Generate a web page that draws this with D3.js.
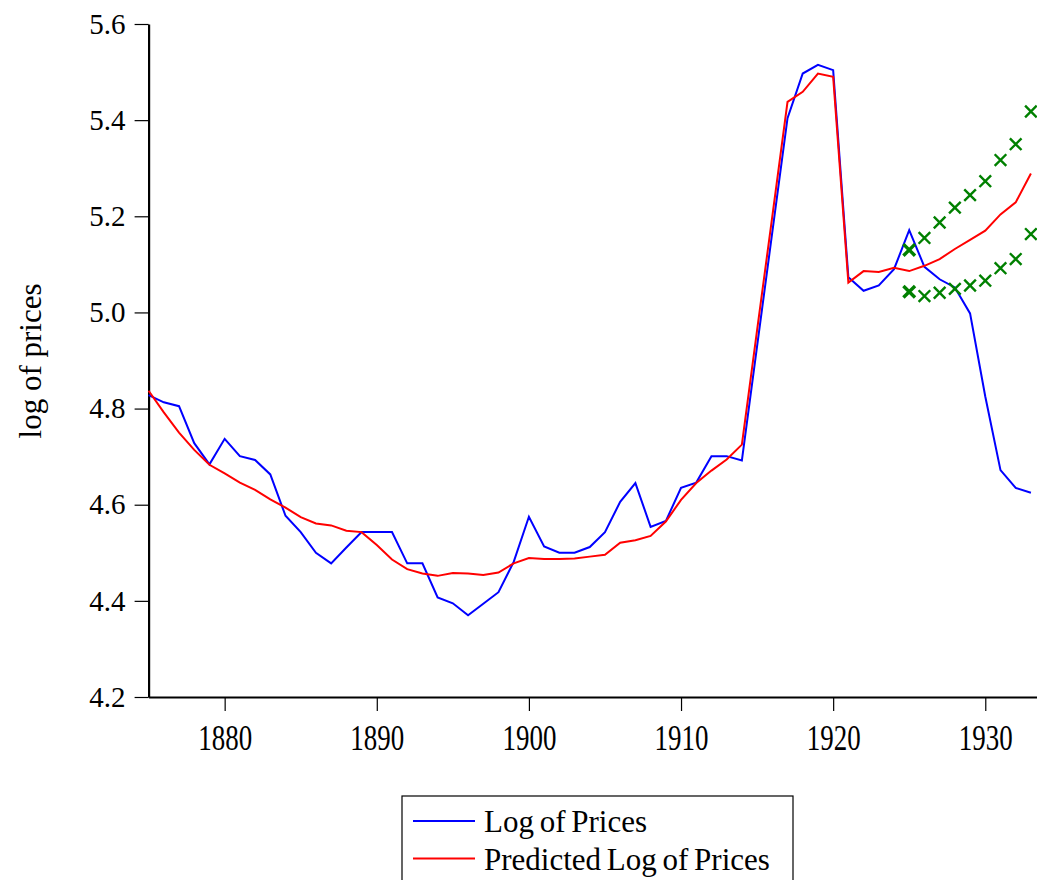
<!DOCTYPE html>
<html>
<head>
<meta charset="utf-8">
<script src="https://cdn.jsdelivr.net/npm/d3@7"></script>
<style>
  html, body { margin: 0; padding: 0; background: #fff; }
  svg { display: block; }
  text { font-family: "Liberation Serif", "Times New Roman", serif; fill: #000; }
</style>
</head>
<body>
<svg id="chart" width="1037" height="880"></svg>
<script>
const years = d3.range(1875, 1934);
const logPrices = [
  4.828, 4.813, 4.805, 4.728, 4.684, 4.737, 4.701, 4.693, 4.663, 4.577,
  4.543, 4.500, 4.478, 4.511, 4.543, 4.543, 4.543, 4.478, 4.478, 4.407,
  4.395, 4.370, 4.394, 4.418, 4.481, 4.575, 4.513, 4.500, 4.500, 4.512,
  4.543, 4.606, 4.645, 4.554, 4.566, 4.635, 4.646, 4.701, 4.701, 4.692,
  4.930, 5.167, 5.404, 5.497, 5.515, 5.504, 5.073, 5.045, 5.056, 5.090,
  5.171, 5.095, 5.069, 5.052, 4.998, 4.825, 4.672, 4.635, 4.625
];
const predicted = [
  4.837, 4.792, 4.750, 4.714, 4.683, 4.665, 4.646, 4.631, 4.611, 4.594,
  4.574, 4.561, 4.557, 4.546, 4.543, 4.516, 4.486, 4.466, 4.457, 4.452,
  4.458, 4.457, 4.454, 4.459, 4.478, 4.489, 4.487, 4.487, 4.488, 4.492,
  4.496, 4.521, 4.526, 4.535, 4.565, 4.610, 4.645, 4.671, 4.694, 4.725,
  4.963, 5.200, 5.438, 5.459, 5.497, 5.490, 5.062, 5.086, 5.084, 5.093,
  5.086, 5.097, 5.111, 5.132, 5.151, 5.170, 5.204, 5.229, 5.289
];
const bandYears = d3.range(1925, 1934);
const upperBand = [5.130, 5.155, 5.187, 5.218, 5.244, 5.273, 5.317, 5.350, 5.418];
const lowerBand = [5.043, 5.034, 5.041, 5.049, 5.056, 5.066, 5.092, 5.111, 5.163];
const xTicks = [1880, 1890, 1900, 1910, 1920, 1930];
const yTicks = [4.2, 4.4, 4.6, 4.8, 5.0, 5.2, 5.4, 5.6];
const seriesNames = ["Log of Prices", "Predicted Log of Prices"];
const seriesColors = ["#0000ff", "#ff0000"];

const svg = d3.select("#chart");
const x = d3.scaleLinear().domain([1875, 1933.4]).range([148.6, 1037]);
const y = d3.scaleLinear().domain([4.2, 5.6]).range([697, 24]);

// axes
const xAxis = svg.append("g").attr("transform", "translate(0,697)")
  .call(d3.axisBottom(x).tickValues(xTicks).tickFormat(d3.format("d")).tickSize(14).tickSizeOuter(0).tickPadding(14));
xAxis.select(".domain").attr("stroke", "#000").attr("stroke-width", 2.2);
xAxis.selectAll(".tick line").attr("stroke", "#000").attr("stroke-width", 1.2);
xAxis.selectAll(".tick text").attr("font-size", 29).attr("font-family", "Liberation Serif")
  .attr("fill", "#000")
  .attr("y", 0).attr("dy", "0.71em")
  .attr("transform", "translate(0,27) scale(0.93,1.25)");

const yAxis = svg.append("g").attr("transform", "translate(148.6,0)")
  .call(d3.axisLeft(y).tickValues(yTicks).tickFormat(d3.format(".1f")).tickSize(14).tickSizeOuter(0).tickPadding(9));
yAxis.select(".domain").attr("stroke", "#000").attr("stroke-width", 2.2);
yAxis.selectAll(".tick line").attr("stroke", "#000").attr("stroke-width", 1.2);
yAxis.selectAll(".tick text").attr("font-size", 29).attr("font-family", "Liberation Serif")
  .attr("fill", "#000");

// y label
svg.append("text")
  .attr("transform", "translate(41,361) rotate(-90)")
  .attr("text-anchor", "middle")
  .attr("font-size", 31)
  .text("log of prices");

// lines
const line = d3.line().x((d, i) => x(years[i])).y(d => y(d));
svg.append("path").datum(logPrices).attr("d", line)
  .attr("fill", "none").attr("stroke", seriesColors[0]).attr("stroke-width", 2).attr("stroke-linejoin", "miter");
svg.append("path").datum(predicted).attr("d", line)
  .attr("fill", "none").attr("stroke", seriesColors[1]).attr("stroke-width", 2).attr("stroke-linejoin", "miter");

// forecast band markers
const cross = d3.symbol().type(d3.symbolX).size(90);
[upperBand, lowerBand].forEach(band => {
  svg.append("g").selectAll("path").data(band).join("path")
    .attr("transform", (d, i) => `translate(${x(bandYears[i])},${y(d)})`)
    .attr("d", cross)
    .attr("fill", "none")
    .attr("stroke", "#008000")
    .attr("stroke-width", (d, i) => i === 0 ? 3.4 : 2.4);
});

// legend
const legend = svg.append("g");
legend.append("rect").attr("x", 402).attr("y", 796).attr("width", 391).attr("height", 110)
  .attr("fill", "#fff").attr("stroke", "#000").attr("stroke-width", 1.2);
seriesNames.forEach((name, i) => {
  const ly = 821 + i * 37.5;
  legend.append("line").attr("x1", 413).attr("x2", 475).attr("y1", ly).attr("y2", ly)
    .attr("stroke", seriesColors[i]).attr("stroke-width", 2);
  legend.append("text").attr("x", 484).attr("y", ly + 11).attr("font-size", 31)
    .attr("word-spacing", "-2px").text(name);
});
</script>
</body>
</html>
